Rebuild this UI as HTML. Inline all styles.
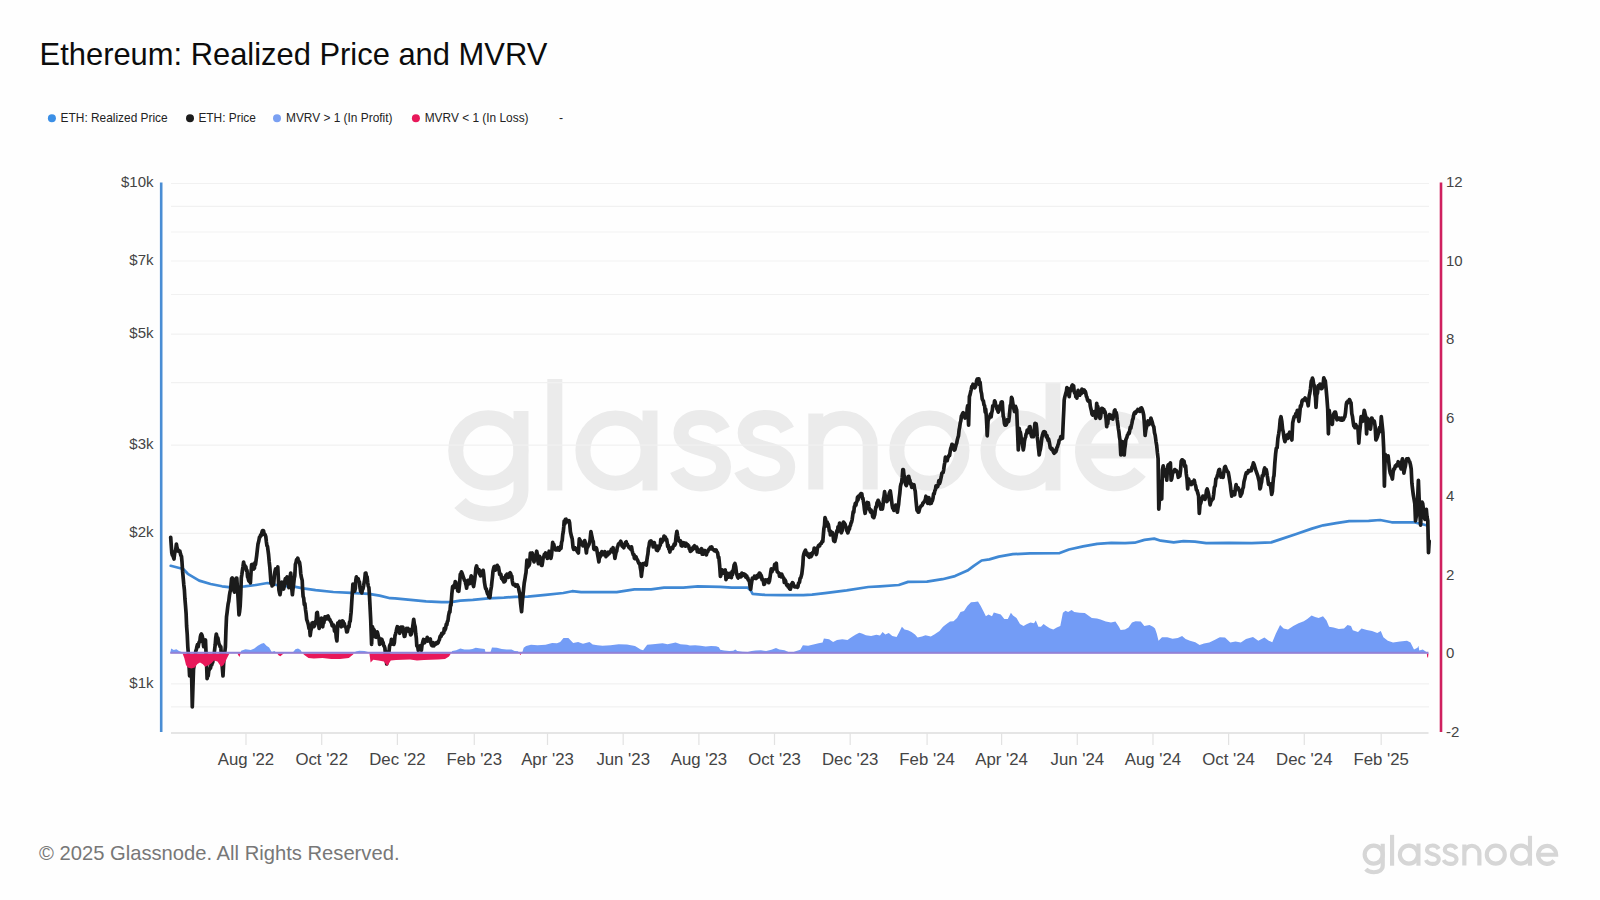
<!DOCTYPE html>
<html><head><meta charset="utf-8"><title>Ethereum: Realized Price and MVRV</title>
<style>
html,body{margin:0;padding:0;background:#fefefe;}
body{width:1600px;height:900px;overflow:hidden;position:relative;font-family:"Liberation Sans", sans-serif;}
svg{position:absolute;left:0;top:0;}
text{font-family:"Liberation Sans", sans-serif;}
</style></head><body>
<svg width="1600" height="900" viewBox="0 0 1600 900">
<defs>
<clipPath id="above"><rect x="160" y="170" width="1280" height="483.3"/></clipPath>
<clipPath id="below"><rect x="160" y="653.3" width="1280" height="100"/></clipPath>
</defs>

<text x="39.6" y="64.7" font-size="30.9" fill="#0c0c0c">Ethereum: Realized Price and MVRV</text>
<circle cx="51.9" cy="118.2" r="4" fill="#3b8fe6"/>
<text x="60.6" y="122.4" font-size="11.9" fill="#222">ETH: Realized Price</text>
<circle cx="190" cy="118.2" r="4" fill="#1c1c1c"/>
<text x="198.4" y="122.4" font-size="11.9" fill="#222">ETH: Price</text>
<circle cx="277" cy="118.2" r="4" fill="#7aa0f2"/>
<text x="286" y="122.4" font-size="11.9" fill="#222">MVRV &gt; 1 (In Profit)</text>
<circle cx="415.9" cy="118.2" r="4" fill="#e8185a"/>
<text x="424.7" y="122.4" font-size="11.9" fill="#222">MVRV &lt; 1 (In Loss)</text>
<text x="559" y="122.4" font-size="12.2" fill="#222">-</text>
<g id="wm" fill="none" stroke="#ebebeb" stroke-width="15"><circle cx="488.3" cy="450.4" r="32.6"/><path d="M521 411 V490 C521 506 507 514 489 514 C476 514 466 510 460 503"/><path d="M554.8 379 V490.5"/><circle cx="615.5" cy="450.6" r="32.6"/><path d="M650 410.5 V490.5"/><path d="M723 430 C718 420 710 417.5 701 417.5 C690 417.5 681 423 681 433 C681 444 692 446 702 449 C714 452 723.5 456 723.5 467 C723.5 478 713 484 701 484 C690 484 681 479 677 470"/><path d="M787.2 430 C782.2 420 774.2 417.5 765.2 417.5 C754.2 417.5 745.2 423 745.2 433 C745.2 444 756.2 446 766.2 449 C778.2 452 787.7 456 787.7 467 C787.7 478 777.2 484 765.2 484 C754.2 484 745.2 479 741.2 470"/><path d="M815.8 413.5 V489.5 M815.8 445.5 A27.2 27.2 0 0 1 870.2 445.5 V489.5"/><circle cx="929.4" cy="450.6" r="32.6"/><circle cx="1020.5" cy="450.6" r="32.6"/><path d="M1053 382.5 V490.5"/><path d="M1082.5 451 H1147.5 A32.5 32.5 0 1 0 1140 472"/></g>
<line x1="171" x2="1429" y1="183.5" y2="183.5" stroke="#f1f1f1" stroke-width="1.2"/>
<line x1="171" x2="1429" y1="206.4" y2="206.4" stroke="#f1f1f1" stroke-width="1.2"/>
<line x1="171" x2="1429" y1="232.0" y2="232.0" stroke="#f1f1f1" stroke-width="1.2"/>
<line x1="171" x2="1429" y1="261.0" y2="261.0" stroke="#f1f1f1" stroke-width="1.2"/>
<line x1="171" x2="1429" y1="294.5" y2="294.5" stroke="#f1f1f1" stroke-width="1.2"/>
<line x1="171" x2="1429" y1="334.1" y2="334.1" stroke="#f1f1f1" stroke-width="1.2"/>
<line x1="171" x2="1429" y1="382.6" y2="382.6" stroke="#f1f1f1" stroke-width="1.2"/>
<line x1="171" x2="1429" y1="445.1" y2="445.1" stroke="#f1f1f1" stroke-width="1.2"/>
<line x1="171" x2="1429" y1="533.3" y2="533.3" stroke="#f1f1f1" stroke-width="1.2"/>
<line x1="171" x2="1429" y1="683.9" y2="683.9" stroke="#f1f1f1" stroke-width="1.2"/>
<line x1="171" x2="1429" y1="706.8" y2="706.8" stroke="#f1f1f1" stroke-width="1.2"/>
<line x1="171" x2="1428.5" y1="733" y2="733" stroke="#dcdcdc" stroke-width="1.5"/>
<line x1="246.0" x2="246.0" y1="733" y2="745" stroke="#e2e2e2" stroke-width="1.2"/>
<text x="246.0" y="765" font-size="16.8" fill="#444" text-anchor="middle">Aug &#39;22</text>
<line x1="321.7" x2="321.7" y1="733" y2="745" stroke="#e2e2e2" stroke-width="1.2"/>
<text x="321.7" y="765" font-size="16.8" fill="#444" text-anchor="middle">Oct &#39;22</text>
<line x1="397.4" x2="397.4" y1="733" y2="745" stroke="#e2e2e2" stroke-width="1.2"/>
<text x="397.4" y="765" font-size="16.8" fill="#444" text-anchor="middle">Dec &#39;22</text>
<line x1="474.3" x2="474.3" y1="733" y2="745" stroke="#e2e2e2" stroke-width="1.2"/>
<text x="474.3" y="765" font-size="16.8" fill="#444" text-anchor="middle">Feb &#39;23</text>
<line x1="547.5" x2="547.5" y1="733" y2="745" stroke="#e2e2e2" stroke-width="1.2"/>
<text x="547.5" y="765" font-size="16.8" fill="#444" text-anchor="middle">Apr &#39;23</text>
<line x1="623.2" x2="623.2" y1="733" y2="745" stroke="#e2e2e2" stroke-width="1.2"/>
<text x="623.2" y="765" font-size="16.8" fill="#444" text-anchor="middle">Jun &#39;23</text>
<line x1="698.9" x2="698.9" y1="733" y2="745" stroke="#e2e2e2" stroke-width="1.2"/>
<text x="698.9" y="765" font-size="16.8" fill="#444" text-anchor="middle">Aug &#39;23</text>
<line x1="774.5" x2="774.5" y1="733" y2="745" stroke="#e2e2e2" stroke-width="1.2"/>
<text x="774.5" y="765" font-size="16.8" fill="#444" text-anchor="middle">Oct &#39;23</text>
<line x1="850.2" x2="850.2" y1="733" y2="745" stroke="#e2e2e2" stroke-width="1.2"/>
<text x="850.2" y="765" font-size="16.8" fill="#444" text-anchor="middle">Dec &#39;23</text>
<line x1="927.1" x2="927.1" y1="733" y2="745" stroke="#e2e2e2" stroke-width="1.2"/>
<text x="927.1" y="765" font-size="16.8" fill="#444" text-anchor="middle">Feb &#39;24</text>
<line x1="1001.6" x2="1001.6" y1="733" y2="745" stroke="#e2e2e2" stroke-width="1.2"/>
<text x="1001.6" y="765" font-size="16.8" fill="#444" text-anchor="middle">Apr &#39;24</text>
<line x1="1077.3" x2="1077.3" y1="733" y2="745" stroke="#e2e2e2" stroke-width="1.2"/>
<text x="1077.3" y="765" font-size="16.8" fill="#444" text-anchor="middle">Jun &#39;24</text>
<line x1="1153.0" x2="1153.0" y1="733" y2="745" stroke="#e2e2e2" stroke-width="1.2"/>
<text x="1153.0" y="765" font-size="16.8" fill="#444" text-anchor="middle">Aug &#39;24</text>
<line x1="1228.6" x2="1228.6" y1="733" y2="745" stroke="#e2e2e2" stroke-width="1.2"/>
<text x="1228.6" y="765" font-size="16.8" fill="#444" text-anchor="middle">Oct &#39;24</text>
<line x1="1304.3" x2="1304.3" y1="733" y2="745" stroke="#e2e2e2" stroke-width="1.2"/>
<text x="1304.3" y="765" font-size="16.8" fill="#444" text-anchor="middle">Dec &#39;24</text>
<line x1="1381.2" x2="1381.2" y1="733" y2="745" stroke="#e2e2e2" stroke-width="1.2"/>
<text x="1381.2" y="765" font-size="16.8" fill="#444" text-anchor="middle">Feb &#39;25</text>
<text x="153.5" y="187.3" font-size="15" fill="#444" text-anchor="end">$10k</text>
<text x="153.5" y="264.8" font-size="15" fill="#444" text-anchor="end">$7k</text>
<text x="153.5" y="337.9" font-size="15" fill="#444" text-anchor="end">$5k</text>
<text x="153.5" y="448.9" font-size="15" fill="#444" text-anchor="end">$3k</text>
<text x="153.5" y="537.1" font-size="15" fill="#444" text-anchor="end">$2k</text>
<text x="153.5" y="687.7" font-size="15" fill="#444" text-anchor="end">$1k</text>
<text x="1446" y="187.3" font-size="15" fill="#444">12</text>
<text x="1446" y="265.8" font-size="15" fill="#444">10</text>
<text x="1446" y="344.3" font-size="15" fill="#444">8</text>
<text x="1446" y="422.8" font-size="15" fill="#444">6</text>
<text x="1446" y="501.3" font-size="15" fill="#444">4</text>
<text x="1446" y="579.8" font-size="15" fill="#444">2</text>
<text x="1446" y="658.3" font-size="15" fill="#444">0</text>
<text x="1446" y="736.8" font-size="15" fill="#444">-2</text>
<line x1="161.2" x2="161.2" y1="182.5" y2="732" stroke="#4a8dd4" stroke-width="2.6"/>
<line x1="1441" x2="1441" y1="182.5" y2="732" stroke="#cf205f" stroke-width="2.6"/>
<polyline points="170.7,565.8 183.2,569.0 187.8,573.8 199.2,580.6 210.6,584.0 222.0,586.3 231.0,587.4 244.7,586.3 256.0,585.0 267.5,583.0 280.0,585.8 294.2,586.7 303.1,588.4 315.6,590.2 333.3,592.0 351.1,592.9 368.9,593.8 379.6,595.6 390.2,598.2 395.0,598.3 410.6,599.9 426.1,601.4 441.7,602.2 451.0,602.2 460.3,600.7 472.8,599.9 488.3,598.3 503.9,597.6 515.0,596.8 527.8,596.6 545.6,594.8 563.3,593.0 572.2,591.2 581.1,592.1 598.9,592.1 616.7,592.1 634.4,589.4 651.1,589.3 664.0,587.7 683.3,587.7 697.8,586.4 720.4,586.9 731.7,587.7 747.8,587.7 751.0,590.9 752.6,593.8 765.0,594.9 781.7,595.2 803.3,595.2 812.0,594.6 825.0,593.1 846.7,590.3 868.3,587.0 880.0,586.3 898.8,585.0 908.1,581.9 926.9,581.6 942.5,579.2 955.0,576.1 967.5,570.6 973.8,565.9 981.6,560.5 989.4,559.4 998.8,556.6 1012.8,554.2 1030.0,553.4 1059.7,553.1 1069.0,549.5 1083.1,546.4 1097.2,543.8 1111.3,542.8 1125.0,543.2 1134.7,542.7 1144.5,539.9 1154.2,538.6 1160.7,540.7 1173.7,542.4 1183.5,541.1 1194.9,541.6 1206.2,543.2 1229.0,542.9 1251.7,543.2 1271.2,542.4 1281.0,539.1 1295.6,534.2 1311.9,528.6 1323.2,525.3 1336.2,523.2 1349.2,521.2 1368.7,520.9 1380.1,520.0 1391.7,522.3 1413.3,522.3 1420.6,523.8 1426.3,525.2 1427.5,525.3" fill="none" stroke="#3f88d4" stroke-width="2.7" stroke-linejoin="round" stroke-linecap="round"/>
<polyline points="170.7,537.3 171.2,544.8 171.8,553.0 172.4,555.2 172.9,555.7 173.4,557.1 174.0,559.0 174.6,553.9 175.2,551.2 175.8,549.3 176.4,544.0 176.9,547.1 177.5,549.0 178.1,551.0 178.7,550.3 179.2,551.1 179.8,551.0 180.4,553.6 181.0,555.6 181.5,556.5 182.0,562.0 182.6,571.2 183.2,578.0 183.8,584.7 184.4,590.0 184.9,598.5 185.5,605.7 186.1,613.5 186.6,626.0 187.2,633.9 187.8,646.7 188.4,654.6 189.0,665.0 189.6,676.0 190.1,667.3 190.5,660.0 191.2,658.0 191.8,682.9 192.3,707.0 192.9,688.2 193.5,669.5 194.1,665.6 194.7,659.4 195.2,656.1 195.8,651.0 196.4,649.4 196.9,646.7 197.5,644.6 198.1,646.8 198.6,644.0 199.2,642.0 199.8,641.7 200.3,637.1 200.8,635.0 201.4,634.0 202.0,635.3 202.6,637.6 203.1,642.0 203.7,646.7 204.3,645.4 204.9,642.6 205.5,640.0 206.0,652.2 206.6,664.4 207.1,678.6 207.7,675.6 208.2,675.8 208.8,670.6 209.4,669.5 210.0,668.7 210.6,667.8 211.1,664.0 211.7,665.0 212.3,662.8 212.8,662.2 213.4,655.3 214.0,655.8 214.6,649.9 215.2,644.8 215.7,638.3 216.3,634.0 216.9,636.7 217.4,637.9 217.9,637.9 218.5,642.0 219.1,644.3 219.7,645.3 220.2,646.8 220.8,646.7 221.4,656.0 221.9,661.9 222.4,668.8 223.0,676.0 223.6,664.1 224.2,655.8 224.8,652.1 225.4,646.7 225.9,631.0 226.5,617.0 227.1,612.4 227.7,607.2 228.2,603.6 228.8,601.0 229.4,595.8 230.0,592.0 230.5,590.3 231.0,585.0 231.6,578.7 232.2,578.0 232.8,579.5 233.3,585.3 233.9,590.5 234.5,592.0 235.1,589.3 235.7,582.3 236.2,578.0 236.8,578.0 237.4,587.7 237.9,595.4 238.4,604.0 239.0,614.8 239.6,611.6 240.2,605.7 240.8,593.4 241.3,578.0 241.9,574.2 242.4,570.3 243.0,566.6 243.6,562.0 244.2,565.5 244.8,565.4 245.3,566.5 245.9,567.0 246.4,570.5 247.0,570.3 247.6,577.0 248.1,578.0 248.7,580.6 249.2,581.2 249.8,579.0 250.4,583.0 251.0,573.0 251.6,564.7 252.2,567.0 252.7,564.3 253.2,567.7 253.8,569.0 254.4,568.2 255.0,562.7 255.5,564.5 256.1,560.0 256.7,555.4 257.4,549.1 258.0,544.0 258.8,541.0 259.5,537.0 260.1,536.9 260.6,535.1 261.2,535.5 261.8,532.8 262.4,530.7 263.0,530.5 263.6,531.0 264.1,534.2 264.6,533.9 265.2,535.0 265.8,536.6 266.4,542.0 266.9,545.6 267.5,546.4 268.1,550.9 268.6,554.8 269.2,561.7 269.8,567.0 270.4,574.8 271.0,583.0 271.6,583.1 272.1,586.0 272.6,583.1 273.2,585.0 273.8,582.8 274.4,575.2 274.9,571.9 275.5,569.0 276.1,569.4 276.6,569.6 277.2,568.7 277.8,567.0 278.4,579.0 278.9,590.0 279.4,592.5 280.0,594.7 280.6,590.7 281.2,587.0 281.8,582.0 282.4,584.1 283.0,587.1 283.6,589.0 284.2,586.4 284.7,582.1 285.3,578.7 285.9,579.2 286.5,578.4 287.1,577.0 287.7,583.3 288.3,584.5 288.9,587.6 289.5,582.1 290.1,577.3 290.7,573.0 291.3,580.2 291.8,588.8 292.4,594.7 293.0,588.9 293.6,584.6 294.2,578.7 294.8,575.9 295.4,564.4 296.0,562.7 296.6,559.6 297.2,560.0 297.8,558.2 298.4,560.3 299.0,561.5 299.6,562.7 300.2,566.9 300.7,573.2 301.3,577.0 302.2,580.4 302.6,588.8 303.1,596.4 303.7,598.1 304.3,604.6 304.9,603.6 305.5,609.4 306.1,613.5 306.7,619.6 307.3,621.2 307.8,622.8 308.4,624.9 309.0,628.4 309.6,628.2 310.2,635.6 310.8,630.8 311.4,628.7 312.0,623.1 312.6,622.7 313.2,625.4 313.8,626.7 314.4,626.2 315.0,624.3 315.6,621.3 316.2,620.4 316.7,613.0 317.3,612.4 317.9,617.2 318.5,622.6 319.1,628.4 319.7,626.3 320.3,624.1 320.9,619.6 321.5,618.2 322.1,625.9 322.7,626.7 323.3,622.3 323.8,622.9 324.4,619.6 325.0,616.9 325.6,618.6 326.2,617.8 326.8,618.9 327.4,616.4 328.0,616.0 328.6,617.5 329.2,619.5 329.8,619.6 330.4,621.0 331.0,621.8 331.6,623.1 332.2,625.8 332.7,625.8 333.3,624.9 333.9,625.7 334.5,631.1 335.1,628.4 335.7,631.0 336.3,638.0 336.9,640.9 337.4,631.6 337.8,623.1 338.4,622.7 339.0,622.9 339.6,621.3 340.2,623.4 340.7,625.8 341.3,626.7 341.9,622.8 342.5,621.0 343.1,621.3 343.7,624.0 344.3,623.6 344.9,626.7 345.5,627.0 346.1,628.2 346.7,632.0 347.3,632.0 347.8,629.5 348.4,626.7 349.0,627.0 349.6,621.8 350.2,621.3 350.6,616.9 351.1,612.4 352.0,598.2 352.9,584.0 353.5,584.8 354.1,589.8 354.7,591.1 355.3,588.6 355.8,580.4 356.4,576.9 357.0,579.7 357.6,579.5 358.2,578.7 358.8,581.4 359.4,581.9 360.0,587.6 360.6,591.3 361.2,591.0 361.8,592.9 362.4,589.7 363.0,588.7 363.6,585.8 364.2,582.2 364.7,579.6 365.3,573.3 365.9,573.1 366.5,577.3 367.1,576.9 367.7,582.5 368.3,586.1 368.9,587.6 369.4,594.4 369.8,601.8 370.7,619.6 371.1,631.0 371.6,644.4 372.4,626.7 373.0,629.3 373.6,629.2 374.2,630.2 374.8,632.7 375.4,636.9 376.0,637.3 376.6,635.8 377.2,631.8 377.8,633.8 378.4,636.8 379.0,638.3 379.6,644.4 380.2,643.8 380.7,641.3 381.3,639.1 381.9,639.4 382.5,641.5 383.1,642.7 383.7,645.6 384.3,646.3 384.9,648.0 385.5,655.2 386.1,658.6 386.7,664.0 387.3,661.3 387.8,657.8 388.4,651.6 389.0,651.5 389.6,645.9 390.2,644.4 390.8,644.5 391.4,639.4 392.0,640.9 392.6,640.5 393.2,640.5 393.8,644.4 394.4,642.4 395.0,635.6 395.6,633.8 396.2,631.4 396.7,628.8 397.3,626.7 398.1,627.1 398.6,629.1 399.2,630.4 399.7,633.3 400.4,630.5 401.2,627.1 401.7,629.6 402.3,627.2 402.8,627.1 403.6,632.5 404.3,636.4 404.8,636.3 405.4,633.1 405.9,631.8 406.6,628.5 407.4,628.7 407.9,628.4 408.5,631.2 409.0,630.2 409.5,629.5 410.1,632.5 410.6,634.9 411.4,634.0 412.1,630.2 412.6,627.7 413.2,622.9 413.7,619.3 414.4,624.3 415.2,627.1 415.7,633.6 416.3,637.9 416.8,645.8 417.6,645.9 418.3,650.4 418.8,648.0 419.4,648.6 419.9,645.8 420.6,647.3 421.4,650.4 421.9,646.0 422.5,643.1 423.0,641.1 423.5,639.5 424.1,642.0 424.6,642.7 425.4,639.5 426.1,639.6 426.6,640.6 427.2,637.3 427.7,641.1 428.4,640.8 429.2,639.6 429.7,639.7 430.3,638.9 430.8,642.7 431.6,645.3 432.3,645.8 432.8,645.4 433.4,642.7 433.9,645.8 434.6,643.8 435.4,644.2 435.9,644.1 436.5,642.6 437.0,642.7 437.5,643.3 438.1,642.7 438.6,641.1 439.4,639.7 440.1,636.4 440.6,635.8 441.2,636.2 441.7,633.3 442.4,634.2 443.2,633.3 443.7,632.9 444.3,628.3 444.8,630.2 445.6,628.4 446.3,624.0 446.8,624.8 447.4,621.5 447.9,620.9 448.6,615.6 449.4,611.6 449.9,612.2 450.5,604.9 451.0,605.3 451.8,594.4 452.6,586.7 453.4,586.6 454.1,585.1 454.6,587.5 455.2,581.7 455.7,582.0 456.4,585.3 457.2,586.7 457.7,590.9 458.3,589.6 458.8,591.3 459.6,583.5 460.3,574.2 460.8,575.0 461.4,571.9 461.9,572.7 462.6,574.9 463.4,577.3 463.9,578.7 464.5,580.5 465.0,580.4 465.5,583.0 466.1,585.3 466.6,588.2 467.4,582.9 468.1,580.4 468.6,581.0 469.2,583.8 469.7,583.6 470.4,579.8 471.2,575.8 471.7,577.2 472.3,579.8 472.8,583.6 473.6,586.5 474.3,582.0 474.8,578.9 475.4,573.6 475.9,568.0 476.6,565.9 477.4,571.1 477.9,571.5 478.5,570.8 479.0,569.6 479.5,574.0 480.1,574.3 480.6,575.8 481.4,573.4 482.1,571.1 482.6,572.9 483.2,570.4 483.7,574.2 484.4,581.9 485.2,586.7 485.7,588.7 486.3,588.8 486.8,591.3 487.6,594.0 488.3,592.9 488.8,597.0 489.4,594.1 489.9,597.6 490.6,591.2 491.4,586.7 491.9,581.9 492.5,576.6 493.0,571.1 493.5,569.0 494.1,566.6 494.6,566.4 495.4,570.2 496.1,568.0 496.6,568.9 497.2,565.3 497.7,566.4 498.4,566.9 499.2,571.1 499.7,574.5 500.3,574.6 500.8,574.2 501.6,578.3 502.3,577.3 502.8,580.0 503.4,579.2 503.9,582.0 504.6,581.6 505.4,580.4 505.9,575.3 506.5,575.2 507.0,574.2 507.8,575.7 508.5,577.3 509.0,576.5 509.6,573.2 510.1,572.7 510.7,573.7 511.2,575.6 511.8,576.1 512.2,580.2 512.7,583.2 513.3,584.7 513.8,584.7 514.4,585.0 515.0,584.5 515.6,586.1 516.2,585.0 516.8,585.7 517.4,585.0 518.0,586.8 518.6,588.3 519.2,591.5 519.8,593.9 520.2,599.1 520.7,604.6 521.6,611.7 522.4,601.0 523.0,595.3 523.6,589.1 524.2,583.2 524.8,579.9 525.4,575.9 526.0,572.6 526.9,560.1 527.8,567.2 528.4,564.3 529.0,565.5 529.6,563.7 530.4,553.0 531.0,554.5 531.6,553.6 532.2,553.0 532.8,555.7 533.4,559.6 534.0,561.9 534.6,558.8 535.2,555.7 535.8,556.6 536.2,554.0 536.7,551.2 537.3,554.1 537.8,560.6 538.4,563.7 539.0,560.4 539.6,556.4 540.2,558.3 540.8,559.2 541.4,565.2 542.0,565.4 542.6,561.9 543.2,557.6 543.8,556.6 544.4,554.3 545.0,554.9 545.6,553.0 546.2,555.5 546.7,556.8 547.3,558.3 547.9,558.0 548.5,554.6 549.1,551.2 549.7,553.5 550.3,556.8 550.9,558.3 551.5,555.3 552.1,549.0 552.7,542.3 553.3,545.5 553.8,544.4 554.4,547.7 555.0,548.1 555.6,549.9 556.2,549.4 556.8,548.4 557.4,549.8 558.0,547.7 558.6,549.1 559.2,550.1 559.8,549.4 560.4,546.7 561.0,548.2 561.6,542.3 562.2,540.5 562.7,534.9 563.3,531.7 563.8,526.5 564.2,521.0 564.8,524.0 565.4,519.3 566.0,519.2 566.6,521.0 567.2,521.8 567.8,521.0 568.4,521.6 569.0,520.6 569.6,522.8 570.4,531.7 571.0,534.3 571.6,536.9 572.2,538.8 573.1,547.7 573.7,549.3 574.3,548.8 574.9,547.7 575.5,548.3 576.1,550.0 576.7,549.4 577.3,551.4 577.8,552.1 578.4,553.0 579.3,538.8 579.9,540.0 580.5,540.8 581.1,542.3 581.7,544.5 582.3,543.2 582.9,545.9 583.5,543.3 584.1,542.4 584.7,540.6 585.3,542.7 585.8,548.3 586.4,553.0 587.0,547.8 587.6,547.3 588.2,545.9 588.8,544.9 589.4,543.2 590.0,540.6 590.9,531.7 591.5,534.6 592.1,537.3 592.7,540.6 593.3,541.5 593.8,549.0 594.4,549.4 595.0,549.6 595.6,549.8 596.2,547.7 596.8,549.4 597.4,553.4 598.0,556.6 598.9,561.9 599.5,556.4 600.1,557.1 600.7,553.0 601.3,554.9 601.8,551.5 602.4,554.8 603.0,554.1 603.6,554.5 604.2,553.0 604.8,551.7 605.4,552.8 606.0,556.6 606.6,554.5 607.2,554.5 607.8,554.8 608.4,552.2 609.0,553.6 609.6,553.0 610.2,552.1 610.7,551.5 611.3,549.4 611.9,549.8 612.5,550.4 613.1,547.7 613.7,552.9 614.3,552.9 614.9,558.3 615.5,555.2 616.1,552.1 616.7,551.2 617.3,547.3 617.8,546.4 618.4,544.1 619.0,543.5 619.6,543.6 620.2,542.3 620.8,541.3 621.4,543.0 622.0,545.9 622.6,546.5 623.2,546.8 623.8,547.7 624.4,545.5 625.0,544.0 625.6,542.3 626.2,541.8 626.7,544.5 627.3,544.1 627.9,545.8 628.5,546.4 629.1,547.7 629.7,547.3 630.3,548.6 630.9,549.4 631.5,546.8 632.1,550.4 632.7,553.0 633.3,554.8 633.8,554.4 634.4,558.3 635.0,558.7 635.5,558.7 636.0,556.7 636.6,558.7 637.1,559.4 637.7,560.4 638.2,561.9 638.7,563.1 639.3,563.8 639.8,563.5 640.3,567.7 640.9,570.9 641.4,576.4 641.9,571.9 642.5,567.7 643.0,563.5 643.6,564.5 644.1,563.9 644.7,563.5 645.2,563.0 645.8,562.7 646.3,565.1 646.8,560.8 647.4,556.5 647.9,553.8 648.4,548.5 649.0,546.2 649.5,542.6 650.0,541.3 650.6,541.6 651.1,540.9 651.6,542.7 652.2,542.5 652.7,544.2 653.2,546.9 653.8,542.7 654.3,542.6 654.8,545.7 655.4,546.0 655.9,547.4 656.5,550.0 657.0,546.2 657.6,550.6 658.1,548.5 658.7,548.8 659.2,547.4 659.7,545.5 660.3,545.3 660.8,539.3 661.3,540.3 661.9,542.2 662.4,540.9 662.9,540.4 663.5,539.0 664.0,536.1 664.5,537.3 665.1,536.9 665.6,537.7 666.1,540.0 666.7,539.5 667.2,542.6 667.7,546.4 668.3,545.4 668.8,549.0 669.3,549.3 669.9,552.0 670.4,549.0 671.0,548.2 671.5,548.0 672.1,547.4 672.6,548.5 673.2,546.4 673.7,545.8 674.2,544.1 674.8,545.1 675.3,544.2 676.1,536.1 676.9,531.3 677.7,536.1 678.5,539.3 679.0,540.6 679.6,541.4 680.1,540.9 680.6,540.9 681.2,545.6 681.7,544.2 682.2,546.0 682.8,543.2 683.3,542.6 683.8,543.5 684.4,543.1 684.9,544.2 685.5,546.2 686.0,543.2 686.6,544.2 687.1,545.7 687.7,544.6 688.2,545.8 688.7,545.9 689.3,548.9 689.8,549.0 690.3,551.4 690.9,550.1 691.4,550.6 691.9,548.6 692.5,549.6 693.0,547.4 693.5,546.8 694.1,546.8 694.6,545.8 695.1,548.5 695.7,548.5 696.2,547.4 696.7,547.2 697.3,551.7 697.8,549.0 698.3,550.1 698.9,552.2 699.4,552.2 700.0,550.8 700.5,551.1 701.1,550.6 701.6,548.7 702.2,554.2 702.7,552.2 703.2,554.1 703.8,550.5 704.3,552.2 704.8,550.6 705.4,551.0 705.9,553.8 706.4,554.9 707.0,552.1 707.5,552.2 708.0,551.0 708.6,549.6 709.1,549.0 709.6,548.8 710.2,547.5 710.7,549.0 711.2,549.0 711.8,547.0 712.3,549.0 712.8,549.2 713.4,550.0 713.9,549.8 714.5,550.7 715.0,550.0 715.6,550.6 716.1,549.9 716.7,551.9 717.2,552.2 717.7,553.2 718.3,557.7 718.8,557.1 719.6,565.1 720.4,576.4 720.9,575.3 721.5,571.9 722.0,569.9 722.5,570.3 723.1,571.1 723.6,573.2 724.1,570.8 724.7,570.5 725.2,569.9 726.0,579.6 726.5,577.9 727.1,576.1 727.6,573.2 728.1,574.5 728.7,577.2 729.2,574.8 729.8,573.3 730.3,573.8 730.9,573.2 731.4,577.6 732.0,571.7 732.5,574.8 733.0,570.8 733.6,568.6 734.1,565.1 734.9,563.5 735.7,566.7 736.5,573.2 737.0,575.0 737.6,577.0 738.1,578.0 738.6,576.6 739.2,576.4 739.7,574.8 740.2,575.4 740.8,576.9 741.3,576.4 741.8,573.2 742.4,574.1 742.9,574.8 743.5,575.1 744.0,573.9 744.6,575.6 745.1,574.4 745.7,577.0 746.2,576.4 746.7,576.0 747.3,578.4 747.8,578.0 748.3,580.1 748.9,580.6 749.4,581.2 750.0,586.0 750.7,589.3 751.2,585.1 751.8,581.2 752.3,578.2 752.9,579.0 753.4,578.0 753.9,578.1 754.5,576.2 755.0,576.4 755.5,576.8 756.1,578.5 756.6,578.0 757.1,575.7 757.7,576.8 758.2,574.8 758.8,576.9 759.3,573.0 759.9,573.2 760.4,574.5 761.0,575.1 761.5,576.4 762.0,579.6 762.6,579.0 763.1,579.6 763.9,584.4 764.5,584.1 765.0,581.2 765.8,579.9 766.5,580.5 767.0,581.0 767.6,581.6 768.2,579.7 768.7,582.7 769.4,581.1 770.1,576.7 770.8,571.8 771.3,568.8 771.9,571.8 772.5,570.0 773.0,569.7 773.5,569.2 774.1,568.0 774.7,564.3 775.2,565.3 775.8,564.0 776.3,563.2 776.8,569.6 777.3,571.8 777.8,572.1 778.4,572.6 779.0,573.2 779.5,576.2 780.0,573.9 780.6,575.6 781.2,576.9 781.7,574.0 782.4,576.0 783.1,577.2 783.8,578.3 784.3,582.5 784.9,579.8 785.5,580.7 786.0,582.7 786.5,584.5 787.1,585.6 787.7,584.5 788.2,587.0 788.9,586.1 789.6,588.9 790.3,589.2 790.8,587.9 791.4,584.1 792.0,584.0 792.5,582.7 793.0,583.0 793.6,585.5 794.2,585.8 794.7,587.0 795.4,586.9 796.1,586.5 796.8,587.0 797.3,587.4 797.9,586.8 798.5,583.3 799.0,582.7 799.5,582.3 800.1,578.4 800.7,577.9 801.2,576.2 801.8,574.0 802.3,569.7 802.8,565.3 803.3,556.7 803.8,554.0 804.4,552.3 805.0,551.1 805.5,550.2 806.0,552.6 806.6,554.5 807.1,553.0 807.7,555.6 808.2,555.2 808.8,556.7 809.3,557.2 809.8,555.1 810.4,553.9 810.9,556.7 811.5,555.7 812.0,554.9 812.5,552.6 813.1,552.3 813.7,551.4 814.2,548.0 814.9,549.8 815.6,551.5 816.3,554.5 816.8,553.0 817.4,548.0 818.0,547.0 818.5,545.8 819.0,545.2 819.6,545.9 820.2,544.0 820.7,543.7 821.4,543.4 822.1,541.3 822.8,541.5 823.3,535.4 823.9,528.5 824.5,525.4 825.0,517.7 825.5,518.9 826.1,522.0 826.6,525.9 827.2,522.2 827.8,523.7 828.3,524.2 828.8,527.1 829.3,531.0 829.9,530.6 830.4,535.0 831.0,531.5 831.5,534.7 832.0,534.5 832.6,532.8 833.1,535.8 833.7,540.8 834.2,539.6 834.8,541.5 835.3,539.2 835.8,537.4 836.4,533.9 836.9,530.7 837.5,531.9 838.0,526.8 838.5,526.9 839.1,526.3 839.6,523.1 840.2,530.7 840.8,530.7 841.3,532.8 841.8,531.4 842.3,530.4 842.9,524.7 843.4,522.0 844.0,522.7 844.5,523.5 845.0,524.1 845.6,526.3 846.1,527.0 846.7,530.4 847.2,531.2 847.8,532.8 848.3,531.3 848.8,529.3 849.4,529.2 849.9,526.3 850.5,525.4 851.0,522.9 851.5,522.4 852.1,519.8 852.6,516.3 853.2,511.7 853.8,512.1 854.3,506.8 854.8,506.4 855.3,503.3 855.9,505.1 856.4,502.5 857.0,501.4 857.5,497.1 858.0,499.9 858.6,496.0 859.1,495.9 859.7,496.1 860.2,494.6 860.8,493.8 861.3,494.7 861.8,493.8 862.4,498.5 862.9,498.2 863.5,502.0 864.0,505.3 864.5,510.0 865.1,513.3 865.6,510.7 866.2,508.8 866.8,504.7 867.3,502.5 867.8,504.1 868.3,502.8 868.9,506.8 869.4,509.0 870.0,510.5 870.5,512.0 871.0,510.1 871.6,511.2 872.1,512.7 872.7,516.7 873.2,515.6 873.8,517.7 874.3,516.0 874.8,514.6 875.4,509.6 875.9,506.8 876.5,506.9 877.0,502.6 877.5,502.2 878.1,500.3 878.6,501.3 879.2,502.7 879.8,505.2 880.3,504.7 880.8,509.1 881.3,505.9 881.9,507.1 882.4,509.0 883.0,505.4 883.5,498.9 884.0,496.7 884.6,491.7 885.1,495.0 885.7,496.3 886.2,499.9 886.8,501.6 887.4,498.2 888.0,500.3 888.6,498.0 889.2,493.5 889.7,492.3 890.3,490.9 890.9,494.9 891.5,499.8 892.1,505.1 892.7,508.1 893.3,508.7 893.9,510.4 894.5,508.1 895.1,507.6 895.7,505.1 896.3,509.7 896.8,509.8 897.4,512.2 898.0,508.0 898.6,504.5 899.2,498.0 899.8,493.6 900.4,486.7 901.0,483.8 901.6,482.6 902.2,477.4 902.8,469.6 903.4,469.8 904.0,475.4 904.6,478.4 905.2,481.4 905.7,484.6 906.3,485.6 906.9,483.6 907.5,479.3 908.1,476.7 908.7,476.4 909.3,479.2 909.9,480.2 910.5,484.0 911.1,483.4 911.7,487.3 912.3,485.3 912.8,486.1 913.4,485.6 914.0,484.7 914.6,488.8 915.2,490.9 916.1,501.6 917.0,510.4 917.6,510.4 918.2,512.2 918.8,512.2 919.4,509.5 920.0,507.4 920.6,506.9 921.2,505.7 921.7,505.6 922.3,505.1 922.9,503.0 923.5,502.8 924.1,501.6 924.7,500.9 925.3,499.7 925.9,496.2 926.5,501.0 927.1,499.8 927.7,503.3 928.3,501.5 928.8,497.5 929.4,499.8 930.0,503.6 930.6,501.1 931.2,503.3 931.8,501.5 932.4,500.5 933.0,498.0 933.6,493.7 934.2,493.9 934.8,490.9 935.4,489.7 936.0,485.9 936.6,487.3 937.2,486.5 937.7,486.6 938.3,483.8 938.9,480.6 939.5,483.7 940.1,482.0 940.7,479.3 941.3,476.7 941.9,473.1 942.5,472.6 943.1,472.6 943.7,469.6 944.3,465.1 944.8,462.5 945.4,457.1 946.0,457.7 946.6,460.5 947.2,460.7 947.8,457.8 948.4,456.9 949.0,455.3 949.6,455.4 950.2,451.2 950.8,448.2 951.4,446.8 952.0,444.3 952.6,444.7 953.2,445.4 953.7,448.5 954.3,450.0 954.9,449.5 955.5,447.1 956.1,444.7 956.7,443.1 957.3,439.9 957.9,437.6 958.5,435.9 959.1,429.9 959.7,426.9 960.3,422.6 960.8,421.0 961.4,416.2 962.0,415.1 962.6,413.5 963.2,412.7 963.8,413.7 964.4,415.9 965.0,418.0 965.6,417.7 966.2,416.1 966.8,414.4 967.2,408.3 967.7,405.6 968.6,425.1 969.4,396.7 970.0,394.9 970.6,392.2 971.2,389.6 971.8,386.4 972.4,387.1 973.0,384.2 973.6,385.0 974.2,386.1 974.8,387.8 975.4,386.5 976.0,384.9 976.6,380.7 977.2,379.1 977.7,380.1 978.3,378.9 978.9,378.8 979.5,384.5 980.1,382.4 981.0,391.3 981.6,393.6 982.2,398.9 982.8,400.2 983.4,401.1 984.0,404.9 984.6,405.6 985.2,412.2 985.7,409.1 986.3,416.2 986.8,425.4 987.2,435.8 988.1,419.8 988.7,419.3 989.3,417.3 989.9,416.2 990.5,414.1 991.1,416.9 991.7,412.7 992.3,410.4 992.8,405.7 993.4,405.6 994.0,405.6 994.6,400.8 995.2,402.0 995.8,406.0 996.4,405.9 997.0,409.1 997.6,409.9 998.2,412.1 998.8,410.9 999.4,409.3 1000.0,405.4 1000.6,405.6 1001.2,402.0 1001.7,404.9 1002.3,402.0 1002.8,410.1 1003.2,416.2 1003.8,418.0 1004.4,423.3 1005.0,425.1 1005.6,425.2 1006.2,424.8 1006.8,423.3 1007.4,419.6 1008.0,421.7 1008.6,421.6 1009.2,417.5 1009.7,412.0 1010.3,405.6 1010.9,404.4 1011.5,397.4 1012.1,398.4 1012.7,402.2 1013.3,406.2 1013.9,409.1 1014.5,411.5 1015.0,406.7 1015.6,406.5 1016.1,408.4 1016.7,410.0 1017.5,430.0 1018.3,450.0 1018.8,439.2 1019.2,428.3 1019.7,431.8 1020.3,432.1 1020.8,435.0 1021.4,439.9 1021.9,440.6 1022.5,445.0 1023.3,450.0 1023.9,446.5 1024.4,441.5 1025.0,438.3 1025.6,436.9 1026.1,434.0 1026.7,433.3 1027.2,430.0 1027.8,432.6 1028.3,430.0 1028.9,429.3 1029.4,427.0 1030.0,426.7 1030.6,430.3 1031.1,434.8 1031.7,436.7 1032.2,435.3 1032.8,436.5 1033.3,436.7 1033.9,433.0 1034.4,428.5 1035.0,423.3 1035.6,424.5 1036.1,423.7 1036.7,428.3 1037.2,436.2 1037.8,441.0 1038.3,446.7 1038.8,450.9 1039.2,455.0 1039.7,451.8 1040.3,449.8 1040.8,446.7 1041.4,442.2 1041.9,437.5 1042.5,435.0 1043.1,432.9 1043.6,432.0 1044.2,431.7 1044.7,431.9 1045.3,432.3 1045.8,435.0 1046.4,437.0 1046.9,435.4 1047.5,438.3 1048.1,440.4 1048.6,439.1 1049.2,441.7 1049.7,444.4 1050.3,448.0 1050.8,448.3 1051.4,449.2 1051.9,448.4 1052.5,450.0 1053.1,451.2 1053.6,452.4 1054.2,453.3 1054.7,450.3 1055.3,451.4 1055.8,451.7 1056.4,450.3 1056.9,447.7 1057.5,446.7 1058.1,444.6 1058.6,443.3 1059.2,440.0 1059.7,440.0 1060.3,439.1 1060.8,436.7 1061.4,438.1 1061.9,437.4 1062.5,438.3 1063.3,420.0 1063.8,410.0 1064.2,400.0 1064.7,397.4 1065.3,395.1 1065.8,393.3 1066.4,391.4 1066.9,387.6 1067.5,388.3 1068.1,390.6 1068.6,393.9 1069.2,396.7 1069.7,392.5 1070.3,391.1 1070.8,388.3 1071.4,387.9 1071.9,385.9 1072.5,385.0 1073.1,390.1 1073.6,385.8 1074.2,391.7 1074.7,393.1 1075.3,392.5 1075.8,396.7 1076.4,396.9 1076.9,398.1 1077.5,393.3 1078.1,390.4 1078.6,394.6 1079.2,395.0 1079.7,395.2 1080.3,393.4 1080.8,393.3 1081.4,393.5 1081.9,389.1 1082.5,391.7 1083.1,392.3 1083.6,391.1 1084.2,390.0 1084.7,391.1 1085.3,391.4 1085.8,393.3 1086.4,396.4 1086.9,397.1 1087.5,400.0 1088.1,400.9 1088.6,400.4 1089.2,401.7 1089.7,400.8 1090.3,406.1 1090.8,408.3 1091.4,410.8 1091.9,413.8 1092.5,415.0 1093.1,412.7 1093.6,412.8 1094.2,411.7 1094.7,414.8 1095.3,416.3 1095.8,418.3 1096.2,412.5 1096.7,403.3 1097.2,408.3 1097.8,406.5 1098.3,410.0 1098.9,410.1 1099.4,416.7 1100.0,418.3 1100.6,417.1 1101.1,412.9 1101.7,408.3 1102.2,410.0 1102.8,408.6 1103.3,410.0 1103.9,409.6 1104.4,412.4 1105.0,411.7 1105.6,415.4 1106.1,419.2 1106.7,426.7 1107.2,422.0 1107.8,423.5 1108.3,416.7 1108.9,418.8 1109.4,414.6 1110.0,415.0 1110.6,415.1 1111.1,417.5 1111.7,418.3 1112.2,416.7 1112.8,419.1 1113.3,416.7 1113.9,414.4 1114.4,410.7 1115.0,410.0 1115.6,413.5 1116.1,412.5 1116.7,415.0 1117.2,419.7 1117.8,423.8 1118.3,428.3 1118.9,431.8 1119.4,436.6 1120.0,440.0 1120.8,455.0 1121.4,449.6 1121.9,443.6 1122.5,441.7 1123.1,443.0 1123.6,448.8 1124.2,455.0 1124.7,448.9 1125.3,445.0 1125.8,440.0 1126.4,438.4 1126.9,437.4 1127.5,435.0 1128.1,434.6 1128.6,432.8 1129.2,433.3 1129.7,430.6 1130.3,427.0 1130.8,428.3 1131.4,425.3 1131.9,423.4 1132.5,420.0 1133.1,418.5 1133.6,415.4 1134.2,413.3 1134.7,412.5 1135.3,413.5 1135.8,411.7 1136.3,411.1 1136.8,411.6 1137.4,410.8 1137.9,409.4 1138.6,410.4 1139.3,410.9 1140.0,411.3 1140.8,408.0 1141.5,407.9 1142.2,409.4 1143.0,411.8 1143.7,415.2 1144.4,423.9 1145.1,435.4 1145.8,430.0 1146.6,426.8 1147.3,422.8 1148.0,421.0 1148.7,424.6 1149.4,423.9 1150.2,423.5 1150.9,418.1 1151.6,420.3 1152.3,422.4 1153.0,425.4 1153.8,426.8 1154.5,432.7 1155.2,435.4 1156.0,441.6 1156.7,445.6 1157.4,452.8 1158.1,458.6 1158.4,481.7 1158.8,509.1 1159.6,496.1 1160.3,481.7 1161.0,496.1 1161.7,499.0 1162.4,470.1 1163.2,465.8 1163.9,475.9 1164.6,474.7 1165.3,470.1 1166.0,473.4 1166.8,480.2 1167.5,467.2 1168.2,464.9 1168.9,464.3 1169.7,464.2 1170.4,462.9 1171.1,480.2 1171.8,478.6 1172.6,473.0 1173.3,472.4 1174.0,471.6 1174.7,469.6 1175.4,470.1 1176.2,470.4 1176.9,471.6 1177.6,473.5 1178.3,477.3 1179.0,475.4 1179.8,475.9 1180.5,470.8 1181.2,461.4 1182.0,459.8 1182.7,460.0 1183.4,460.7 1184.1,461.4 1184.8,466.6 1185.6,465.8 1186.3,474.0 1187.0,478.8 1187.7,488.9 1188.4,478.8 1189.2,480.7 1189.9,481.7 1190.6,482.3 1191.3,484.6 1192.0,483.7 1192.8,481.7 1193.5,483.2 1194.2,480.2 1195.0,484.0 1195.7,486.0 1196.4,489.9 1197.1,490.3 1197.8,493.3 1198.6,496.1 1199.3,513.4 1200.0,504.8 1200.7,503.3 1201.4,500.4 1202.2,498.0 1202.9,496.1 1203.6,498.1 1204.3,499.0 1205.0,499.4 1205.8,496.1 1206.5,490.5 1207.2,488.9 1208.0,491.7 1208.7,494.7 1209.4,500.1 1210.1,504.8 1210.8,501.8 1211.6,500.4 1212.3,499.3 1213.0,499.0 1213.7,494.3 1214.4,487.4 1215.2,485.9 1215.9,478.8 1216.6,478.2 1217.3,475.9 1218.0,473.5 1218.8,470.1 1219.5,469.4 1220.2,473.0 1221.0,477.1 1221.7,475.9 1222.4,476.7 1223.1,477.3 1223.8,472.2 1224.6,467.2 1225.3,466.4 1226.0,468.7 1226.7,470.1 1227.4,471.6 1228.2,472.2 1228.9,475.9 1229.6,480.3 1230.3,484.6 1231.0,491.0 1231.8,496.1 1232.5,494.0 1233.2,491.8 1234.0,493.6 1234.7,494.7 1235.4,488.5 1236.1,484.6 1236.8,488.0 1237.6,487.4 1238.3,487.9 1239.0,490.3 1239.7,490.7 1240.4,496.1 1241.2,494.4 1241.9,493.2 1242.6,489.2 1243.3,487.4 1244.0,481.7 1244.8,478.8 1245.5,475.4 1246.2,473.0 1247.0,473.4 1247.7,473.0 1248.4,470.6 1249.1,471.6 1249.8,470.7 1250.6,470.1 1251.3,470.6 1252.0,467.2 1252.7,466.0 1253.4,462.9 1254.2,464.8 1254.9,467.2 1255.6,469.6 1256.3,471.6 1257.0,473.6 1257.8,475.9 1258.5,478.7 1259.2,481.7 1259.9,488.9 1260.5,487.6 1261.0,484.2 1261.6,482.0 1262.3,475.5 1263.1,475.8 1263.6,473.2 1264.2,469.4 1264.7,468.0 1265.5,469.7 1266.2,469.6 1266.7,471.8 1267.3,476.0 1267.8,478.9 1268.5,484.3 1269.3,483.6 1269.8,483.7 1270.4,485.1 1270.9,488.2 1271.7,494.4 1272.4,491.3 1272.9,484.2 1273.5,477.6 1274.0,475.8 1274.8,463.3 1275.6,454.0 1276.3,448.3 1277.1,447.8 1277.9,438.4 1278.7,433.8 1279.4,429.1 1280.2,419.8 1281.0,416.7 1281.8,421.3 1282.6,429.1 1283.3,432.2 1284.1,438.4 1284.9,441.6 1285.7,439.0 1286.4,435.3 1286.9,435.4 1287.5,434.8 1288.0,438.4 1288.5,434.3 1289.1,435.1 1289.6,432.2 1290.3,433.5 1291.1,436.9 1291.9,440.0 1292.7,422.9 1293.5,419.3 1294.2,416.7 1294.7,416.1 1295.3,416.5 1295.8,413.6 1296.5,414.7 1297.3,410.4 1297.8,415.5 1298.4,417.9 1298.9,421.3 1299.7,413.8 1300.4,405.8 1300.9,406.8 1301.5,404.7 1302.0,401.1 1302.5,400.2 1303.1,400.7 1303.6,399.6 1304.3,399.2 1305.1,398.0 1305.6,399.1 1306.2,399.4 1306.7,401.1 1307.5,401.6 1308.2,405.8 1308.7,400.9 1309.3,395.3 1309.8,393.3 1310.5,388.8 1311.3,380.9 1311.8,381.1 1312.4,378.1 1312.9,379.3 1313.7,384.4 1314.4,385.6 1314.9,394.1 1315.5,397.4 1316.0,407.3 1316.8,394.9 1317.5,392.8 1318.3,385.6 1318.8,386.2 1319.4,387.4 1319.9,384.0 1320.7,384.6 1321.4,388.7 1321.9,388.4 1322.5,387.2 1323.0,385.6 1323.8,377.8 1324.5,379.6 1325.3,380.9 1326.1,388.7 1326.9,398.0 1327.7,408.9 1328.4,433.8 1329.2,410.4 1329.7,413.8 1330.3,418.1 1330.8,419.8 1331.5,420.0 1332.3,424.4 1332.8,419.1 1333.4,415.2 1333.9,413.6 1334.7,412.0 1335.4,412.0 1335.9,413.8 1336.5,417.7 1337.0,419.8 1337.5,419.6 1338.1,418.8 1338.6,418.2 1339.3,418.1 1340.1,419.8 1340.6,418.6 1341.2,420.1 1341.7,418.2 1342.5,420.1 1343.2,419.8 1343.7,418.9 1344.3,417.3 1344.8,416.7 1345.5,412.6 1346.3,404.2 1346.8,402.3 1347.4,403.0 1347.9,401.1 1348.7,402.0 1349.4,399.6 1349.9,400.3 1350.5,402.8 1351.0,402.7 1351.8,413.6 1352.5,416.7 1353.3,422.9 1353.8,425.9 1354.4,426.3 1354.9,427.6 1355.7,424.6 1356.4,426.0 1356.9,428.0 1357.5,426.8 1358.0,429.1 1358.8,443.1 1359.6,432.2 1360.3,426.2 1361.1,416.7 1361.6,417.3 1362.2,419.5 1362.7,421.3 1363.5,416.2 1364.2,410.4 1364.7,412.0 1365.3,415.0 1365.8,416.7 1366.6,433.8 1367.3,418.2 1367.8,419.0 1368.4,422.3 1368.9,422.9 1369.7,426.0 1370.4,429.1 1370.9,425.8 1371.5,418.0 1372.0,418.2 1372.5,420.9 1373.1,420.3 1373.6,421.3 1374.3,421.2 1375.1,426.0 1375.9,440.0 1376.7,438.6 1377.4,436.9 1377.9,435.0 1378.5,433.2 1379.0,429.1 1379.5,427.6 1380.1,431.3 1380.6,429.1 1381.3,416.7 1382.1,424.4 1382.9,432.2 1383.7,448.7 1384.4,486.2 1385.2,454.4 1385.9,456.4 1386.6,458.8 1387.3,460.7 1388.1,455.9 1388.8,462.2 1389.5,468.9 1390.2,472.8 1390.9,474.7 1391.7,476.3 1392.4,479.0 1393.1,472.4 1393.8,468.9 1394.5,469.0 1395.3,466.0 1396.0,466.6 1396.7,464.6 1397.5,465.3 1398.2,461.7 1398.9,465.0 1399.6,466.0 1400.3,466.6 1401.1,468.9 1401.8,461.5 1402.5,458.8 1403.2,465.1 1403.9,473.2 1404.7,468.7 1405.4,466.0 1406.1,461.3 1406.8,458.8 1407.5,459.6 1408.3,458.8 1409.0,460.7 1409.7,461.7 1410.5,464.9 1411.2,468.9 1411.9,483.3 1412.6,489.3 1413.3,494.9 1414.0,499.0 1414.8,503.6 1415.5,520.9 1416.2,516.8 1416.9,512.2 1417.7,497.4 1418.4,480.4 1419.1,497.6 1419.8,512.2 1420.6,525.2 1421.3,512.7 1422.0,502.1 1422.7,503.6 1423.4,509.3 1424.2,516.3 1424.9,519.4 1425.6,514.5 1426.3,509.3 1427.0,516.6 1427.8,520.9 1428.5,552.7 1429.2,541.1" fill="none" stroke="#1b1b1b" stroke-width="3.7" stroke-linejoin="round" stroke-linecap="round"/>
<polygon points="170.3,653.3 170.3,653.3 171.1,648.4 173.8,650.1 176.4,649.3 179.0,651.0 181.6,651.9 182.5,653.3 184.3,658.0 186.0,665.0 187.8,667.6 191.3,668.5 194.8,667.6 197.4,664.1 200.0,662.4 202.6,664.1 205.3,666.8 208.8,665.0 211.4,663.3 214.0,660.6 217.5,661.5 221.0,666.8 223.6,665.0 225.4,661.5 227.1,658.0 228.9,654.5 229.8,653.3 231.5,652.4 236.8,652.4 238.5,655.4 239.4,657.1 240.3,654.5 241.1,650.7 245.5,649.3 250.8,650.1 254.3,648.4 257.8,645.8 261.3,643.7 263.9,643.1 266.5,645.8 269.1,647.5 271.8,651.9 274.4,651.0 277.0,653.3 278.8,655.4 280.5,656.3 282.3,654.5 285.8,652.8 289.3,651.9 292.8,652.4 295.4,649.3 298.0,648.4 300.6,650.1 302.4,653.3 305.0,655.4 308.5,658.0 313.8,658.4 322.5,658.0 331.3,658.9 340.0,658.9 348.8,658.0 353.1,654.5 354.0,653.3 355.8,651.4 359.3,650.7 364.5,651.0 368.0,651.9 369.4,653.3 370.6,662.4 373.3,659.8 378.5,660.6 383.8,661.5 387.3,665.9 390.8,660.6 396.0,660.1 403.0,659.8 410.0,659.4 417.0,660.6 424.0,660.1 431.0,659.8 438.0,659.4 445.0,658.9 449.0,656.5 451.0,653.3 452.2,651.0 456.2,650.2 460.3,648.6 464.4,649.4 469.2,649.4 472.5,649.0 475.7,647.7 480.6,648.6 484.7,649.0 485.5,652.3 490.4,652.3 492.0,647.4 496.9,647.7 501.7,649.0 506.6,649.4 511.5,649.4 514.7,651.0 518.0,651.3 520.4,655.1 522.1,653.0 523.7,647.7 526.1,646.1 531.0,644.8 537.5,645.3 545.6,644.8 552.1,642.9 557.0,643.2 560.2,642.1 563.5,638.0 568.4,638.0 570.8,640.4 573.2,642.9 578.1,642.1 583.0,643.7 589.5,642.1 592.7,644.5 597.6,645.3 602.5,645.8 610.6,645.3 618.7,644.2 626.9,644.5 635.0,646.1 640.7,649.4 643.1,650.2 647.2,644.8 652.9,644.2 662.6,643.2 667.5,644.2 675.6,642.5 680.5,644.2 687.0,644.8 690.0,645.5 695.2,645.2 700.5,645.8 705.7,646.5 711.0,646.0 716.2,646.2 718.9,647.2 720.2,649.8 724.1,650.4 729.4,651.1 733.3,650.7 735.3,649.4 737.3,651.1 742.5,651.8 747.8,652.0 751.7,651.1 755.6,650.4 760.9,650.2 766.1,651.1 771.4,649.8 776.0,648.1 779.3,649.4 784.5,650.2 788.4,652.0 792.4,652.4 796.3,651.1 800.3,649.8 802.9,645.2 808.1,645.8 813.4,644.5 818.6,643.2 822.6,642.6 823.9,638.4 829.1,639.3 833.1,641.9 837.0,640.0 842.3,639.3 847.5,640.0 851.4,637.3 855.4,634.7 859.3,632.7 861.9,633.4 865.9,635.3 871.1,636.0 876.4,634.7 880.0,635.5 882.6,632.0 885.3,634.6 888.8,632.9 892.3,635.9 896.6,636.9 899.3,632.0 901.9,626.8 904.5,629.4 908.0,630.3 911.5,632.0 915.0,634.6 917.6,637.6 922.0,636.4 925.5,635.2 930.8,636.4 934.3,634.6 939.5,631.1 943.0,626.8 946.5,624.1 950.0,621.5 953.5,621.2 957.0,618.0 960.5,611.9 964.0,611.0 967.5,605.8 971.0,602.3 974.5,601.9 978.0,601.4 980.6,605.8 983.3,611.0 985.9,616.3 988.5,614.5 992.0,616.3 993.8,612.4 997.3,613.6 1000.8,614.5 1004.3,618.9 1007.8,618.9 1010.9,612.8 1013.0,615.4 1016.5,618.0 1020.0,624.1 1023.5,625.9 1027.0,624.1 1030.5,622.4 1034.0,623.3 1035.8,620.6 1038.4,626.8 1041.0,626.8 1043.6,624.1 1046.3,625.9 1049.8,628.2 1053.3,629.4 1056.8,627.6 1060.3,625.9 1062.9,612.8 1065.5,610.7 1068.1,611.9 1071.6,610.1 1074.3,611.9 1079.5,612.8 1084.8,613.1 1088.3,615.4 1091.8,618.0 1097.0,618.4 1100.5,619.4 1105.8,621.5 1111.0,622.4 1115.4,621.5 1118.9,626.8 1120.6,629.9 1125.0,629.4 1128.5,627.6 1132.0,622.4 1135.5,621.2 1140.8,621.5 1144.3,625.9 1149.5,625.0 1153.0,626.8 1155.0,628.5 1156.8,633.8 1158.5,640.8 1162.0,637.3 1167.3,637.3 1172.5,638.7 1177.8,638.1 1182.1,635.9 1185.6,639.0 1190.0,640.8 1195.3,642.2 1199.6,645.1 1204.0,643.4 1209.3,642.5 1214.5,639.9 1219.8,637.3 1225.0,637.6 1230.3,642.5 1235.5,641.6 1240.8,642.5 1246.0,639.0 1253.0,636.9 1258.3,640.8 1264.4,637.6 1268.8,640.8 1272.3,642.2 1275.8,633.8 1280.1,625.0 1283.6,628.5 1288.0,629.4 1293.3,625.9 1298.5,623.3 1303.8,621.2 1307.3,618.9 1311.6,615.4 1315.1,617.1 1318.6,618.0 1323.0,616.3 1326.5,620.6 1329.1,626.8 1333.5,627.6 1338.8,628.9 1344.0,628.5 1347.5,625.0 1351.0,625.9 1352.8,630.3 1358.0,632.0 1361.5,628.5 1366.8,629.9 1372.0,631.1 1377.3,632.9 1380.8,631.1 1383.4,637.3 1387.8,640.8 1393.0,642.5 1400.0,641.6 1407.0,640.8 1410.5,642.5 1414.0,649.5 1417.5,647.8 1418.4,645.7 1419.3,650.4 1422.8,649.5 1426.3,652.1 1426.8,653.3 1427.1,656.5 1428.0,658.0 1428.5,653.3 1428.5,653.3" fill="#739cf6" clip-path="url(#above)"/>
<polygon points="170.3,653.3 170.3,653.3 171.1,648.4 173.8,650.1 176.4,649.3 179.0,651.0 181.6,651.9 182.5,653.3 184.3,658.0 186.0,665.0 187.8,667.6 191.3,668.5 194.8,667.6 197.4,664.1 200.0,662.4 202.6,664.1 205.3,666.8 208.8,665.0 211.4,663.3 214.0,660.6 217.5,661.5 221.0,666.8 223.6,665.0 225.4,661.5 227.1,658.0 228.9,654.5 229.8,653.3 231.5,652.4 236.8,652.4 238.5,655.4 239.4,657.1 240.3,654.5 241.1,650.7 245.5,649.3 250.8,650.1 254.3,648.4 257.8,645.8 261.3,643.7 263.9,643.1 266.5,645.8 269.1,647.5 271.8,651.9 274.4,651.0 277.0,653.3 278.8,655.4 280.5,656.3 282.3,654.5 285.8,652.8 289.3,651.9 292.8,652.4 295.4,649.3 298.0,648.4 300.6,650.1 302.4,653.3 305.0,655.4 308.5,658.0 313.8,658.4 322.5,658.0 331.3,658.9 340.0,658.9 348.8,658.0 353.1,654.5 354.0,653.3 355.8,651.4 359.3,650.7 364.5,651.0 368.0,651.9 369.4,653.3 370.6,662.4 373.3,659.8 378.5,660.6 383.8,661.5 387.3,665.9 390.8,660.6 396.0,660.1 403.0,659.8 410.0,659.4 417.0,660.6 424.0,660.1 431.0,659.8 438.0,659.4 445.0,658.9 449.0,656.5 451.0,653.3 452.2,651.0 456.2,650.2 460.3,648.6 464.4,649.4 469.2,649.4 472.5,649.0 475.7,647.7 480.6,648.6 484.7,649.0 485.5,652.3 490.4,652.3 492.0,647.4 496.9,647.7 501.7,649.0 506.6,649.4 511.5,649.4 514.7,651.0 518.0,651.3 520.4,655.1 522.1,653.0 523.7,647.7 526.1,646.1 531.0,644.8 537.5,645.3 545.6,644.8 552.1,642.9 557.0,643.2 560.2,642.1 563.5,638.0 568.4,638.0 570.8,640.4 573.2,642.9 578.1,642.1 583.0,643.7 589.5,642.1 592.7,644.5 597.6,645.3 602.5,645.8 610.6,645.3 618.7,644.2 626.9,644.5 635.0,646.1 640.7,649.4 643.1,650.2 647.2,644.8 652.9,644.2 662.6,643.2 667.5,644.2 675.6,642.5 680.5,644.2 687.0,644.8 690.0,645.5 695.2,645.2 700.5,645.8 705.7,646.5 711.0,646.0 716.2,646.2 718.9,647.2 720.2,649.8 724.1,650.4 729.4,651.1 733.3,650.7 735.3,649.4 737.3,651.1 742.5,651.8 747.8,652.0 751.7,651.1 755.6,650.4 760.9,650.2 766.1,651.1 771.4,649.8 776.0,648.1 779.3,649.4 784.5,650.2 788.4,652.0 792.4,652.4 796.3,651.1 800.3,649.8 802.9,645.2 808.1,645.8 813.4,644.5 818.6,643.2 822.6,642.6 823.9,638.4 829.1,639.3 833.1,641.9 837.0,640.0 842.3,639.3 847.5,640.0 851.4,637.3 855.4,634.7 859.3,632.7 861.9,633.4 865.9,635.3 871.1,636.0 876.4,634.7 880.0,635.5 882.6,632.0 885.3,634.6 888.8,632.9 892.3,635.9 896.6,636.9 899.3,632.0 901.9,626.8 904.5,629.4 908.0,630.3 911.5,632.0 915.0,634.6 917.6,637.6 922.0,636.4 925.5,635.2 930.8,636.4 934.3,634.6 939.5,631.1 943.0,626.8 946.5,624.1 950.0,621.5 953.5,621.2 957.0,618.0 960.5,611.9 964.0,611.0 967.5,605.8 971.0,602.3 974.5,601.9 978.0,601.4 980.6,605.8 983.3,611.0 985.9,616.3 988.5,614.5 992.0,616.3 993.8,612.4 997.3,613.6 1000.8,614.5 1004.3,618.9 1007.8,618.9 1010.9,612.8 1013.0,615.4 1016.5,618.0 1020.0,624.1 1023.5,625.9 1027.0,624.1 1030.5,622.4 1034.0,623.3 1035.8,620.6 1038.4,626.8 1041.0,626.8 1043.6,624.1 1046.3,625.9 1049.8,628.2 1053.3,629.4 1056.8,627.6 1060.3,625.9 1062.9,612.8 1065.5,610.7 1068.1,611.9 1071.6,610.1 1074.3,611.9 1079.5,612.8 1084.8,613.1 1088.3,615.4 1091.8,618.0 1097.0,618.4 1100.5,619.4 1105.8,621.5 1111.0,622.4 1115.4,621.5 1118.9,626.8 1120.6,629.9 1125.0,629.4 1128.5,627.6 1132.0,622.4 1135.5,621.2 1140.8,621.5 1144.3,625.9 1149.5,625.0 1153.0,626.8 1155.0,628.5 1156.8,633.8 1158.5,640.8 1162.0,637.3 1167.3,637.3 1172.5,638.7 1177.8,638.1 1182.1,635.9 1185.6,639.0 1190.0,640.8 1195.3,642.2 1199.6,645.1 1204.0,643.4 1209.3,642.5 1214.5,639.9 1219.8,637.3 1225.0,637.6 1230.3,642.5 1235.5,641.6 1240.8,642.5 1246.0,639.0 1253.0,636.9 1258.3,640.8 1264.4,637.6 1268.8,640.8 1272.3,642.2 1275.8,633.8 1280.1,625.0 1283.6,628.5 1288.0,629.4 1293.3,625.9 1298.5,623.3 1303.8,621.2 1307.3,618.9 1311.6,615.4 1315.1,617.1 1318.6,618.0 1323.0,616.3 1326.5,620.6 1329.1,626.8 1333.5,627.6 1338.8,628.9 1344.0,628.5 1347.5,625.0 1351.0,625.9 1352.8,630.3 1358.0,632.0 1361.5,628.5 1366.8,629.9 1372.0,631.1 1377.3,632.9 1380.8,631.1 1383.4,637.3 1387.8,640.8 1393.0,642.5 1400.0,641.6 1407.0,640.8 1410.5,642.5 1414.0,649.5 1417.5,647.8 1418.4,645.7 1419.3,650.4 1422.8,649.5 1426.3,652.1 1426.8,653.3 1427.1,656.5 1428.0,658.0 1428.5,653.3 1428.5,653.3" fill="#e8185a" clip-path="url(#below)"/>
<line x1="170.3" x2="1428.5" y1="652.8" y2="652.8" stroke="#8f82d8" stroke-width="2"/>
<text x="39" y="860" font-size="20.2" fill="#777">© 2025 Glassnode. All Rights Reserved.</text>
<g transform="translate(1238.52,729.93) scale(0.2768)" fill="none" stroke="#d6d6d6" stroke-width="15"><circle cx="488.3" cy="450.4" r="32.6"/><path d="M521 411 V490 C521 506 507 514 489 514 C476 514 466 510 460 503"/><path d="M554.8 379 V490.5"/><circle cx="615.5" cy="450.6" r="32.6"/><path d="M650 410.5 V490.5"/><path d="M723 430 C718 420 710 417.5 701 417.5 C690 417.5 681 423 681 433 C681 444 692 446 702 449 C714 452 723.5 456 723.5 467 C723.5 478 713 484 701 484 C690 484 681 479 677 470"/><path d="M787.2 430 C782.2 420 774.2 417.5 765.2 417.5 C754.2 417.5 745.2 423 745.2 433 C745.2 444 756.2 446 766.2 449 C778.2 452 787.7 456 787.7 467 C787.7 478 777.2 484 765.2 484 C754.2 484 745.2 479 741.2 470"/><path d="M815.8 413.5 V489.5 M815.8 445.5 A27.2 27.2 0 0 1 870.2 445.5 V489.5"/><circle cx="929.4" cy="450.6" r="32.6"/><circle cx="1020.5" cy="450.6" r="32.6"/><path d="M1053 382.5 V490.5"/><path d="M1082.5 451 H1147.5 A32.5 32.5 0 1 0 1140 472"/></g>
</svg></body></html>
